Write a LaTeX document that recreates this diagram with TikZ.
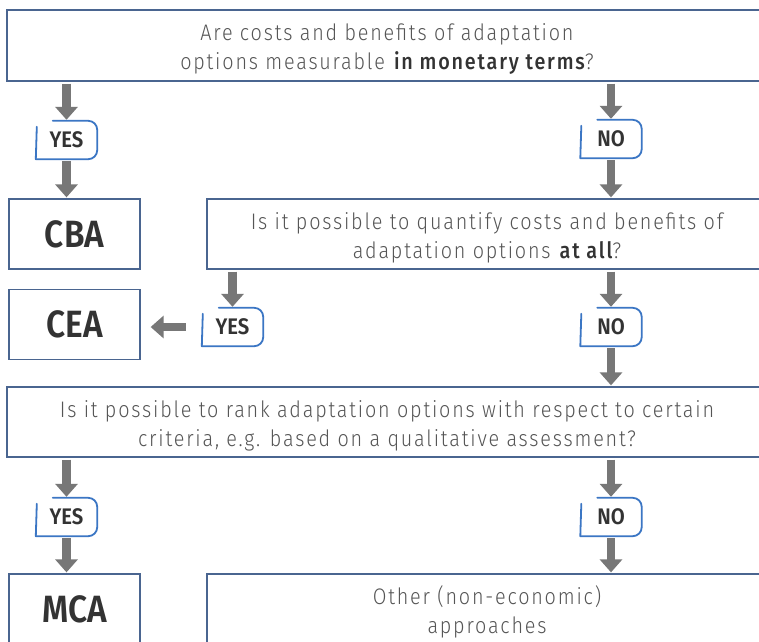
\documentclass[tikz,border=0pt]{standalone}
\usepackage{fontspec}
\setmainfont{Fira Sans}[UprightFont=* Light, BoldFont=* Medium, LetterSpace=8, FakeStretch=0.88]
\newfontfamily\lblfont{Fira Sans}[UprightFont=* SemiBold, FakeStretch=0.9]
\newfontfamily\bigfont{Fira Sans}[UprightFont=* SemiBold, FakeStretch=0.88]
\usetikzlibrary{arrows.meta,calc}
\definecolor{boxblue}{HTML}{4A6590}
\definecolor{brkblue}{HTML}{3B76C4}
\definecolor{arrgray}{HTML}{777777}
\definecolor{qgray}{HTML}{555555}
\definecolor{dark}{HTML}{333333}
\newcommand{\hl}[1]{\textbf{\color{dark}#1}}
\newcommand{\tp}{\rule{0pt}{24pt}}
\tikzset{
  qbox/.style={draw=boxblue, line width=1.3pt, align=center, inner sep=0pt,
    text=qgray, font=\fontsize{22.5}{29}\selectfont},
  rbox/.style={draw=boxblue, line width=1.3pt, inner sep=0pt, text=dark,
    minimum width=131pt, minimum height=70pt, font=\bigfont\fontsize{38}{38}\selectfont},
  lbl/.style={minimum width=61pt, minimum height=38pt, inner sep=0pt, text=dark,
    font=\lblfont\fontsize{22.5}{22.5}\selectfont},
  garrow/.style={draw=arrgray, line width=8.5pt, -{Triangle[width=22pt,length=13pt]},
    shorten <=2pt, shorten >=1pt},
  brk/.style={draw=brkblue, line width=1.8pt, line cap=round, line join=round}
}
\newcommand{\bracket}[1]{%
  \draw[brk] ($(#1.north west)+(17,0)$) [rounded corners=9pt] -- (#1.north east)
    -- (#1.south east) [sharp corners] -- (#1.south west) -- ($(#1.north west)+(1,6)$);}
\begin{document}
\begin{tikzpicture}[x=1pt,y=-1pt]
\clip (0,0) rectangle (759,641);
\fill[white] (0,0) rectangle (759,641);
% boxes
\node[qbox, minimum width=760pt, minimum height=71pt] (q1) at (387,45.5)
  {\tp Are costs and benefits of adaptation\\options measurable \hl{in monetary terms}?};
\node[rbox] (cba) at (74.5,234) {CBA};
\node[qbox, minimum width=560pt, minimum height=70pt] (q2) at (487,234)
  {\tp Is it possible to quantify costs and benefits of\\adaptation options \hl{at all}?};
\node[rbox] (cea) at (74.5,324.5) {CEA};
\node[qbox, minimum width=760pt, minimum height=70pt] (q3) at (387,422)
  {\tp Is it possible to rank adaptation options with respect to certain\\criteria, e.g. based on a qualitative assessment?};
\node[rbox] (mca) at (74.5,609) {MCA};
\node[qbox, minimum width=560pt, minimum height=70pt] (other) at (487,609)
  {\tp Other (non-economic)\\approaches};
% labels
\node[lbl] (y1) at (66.5,140) {YES};
\node[lbl] (n1) at (611,139) {NO};
\node[lbl] (y2) at (232.5,327) {YES};
\node[lbl] (n2) at (611,327) {NO};
\node[lbl] (y3) at (66.5,517) {YES};
\node[lbl] (n3) at (611,517) {NO};
\bracket{y1}\bracket{n1}\bracket{y2}\bracket{n2}\bracket{y3}\bracket{n3}
% arrows
\draw[garrow] (q1.south -| y1) -- (y1.north);
\draw[garrow] (y1.south) -- (cba.north -| y1);
\draw[garrow] (q1.south -| n1) -- (n1.north);
\draw[garrow] (n1.south) -- (q2.north -| n1);
\draw[garrow] (q2.south -| y2) -- (y2.north);
\draw[garrow, shorten <=16pt, shorten >=10pt] (y2.west) -- (cea.east |- y2);
\draw[garrow] (q2.south -| n2) -- (n2.north);
\draw[garrow] (n2.south) -- (q3.north -| n2);
\draw[garrow] (q3.south -| y3) -- (y3.north);
\draw[garrow] (y3.south) -- (mca.north -| y3);
\draw[garrow] (q3.south -| n3) -- (n3.north);
\draw[garrow] (n3.south) -- (other.north -| n3);
\end{tikzpicture}
\end{document}
